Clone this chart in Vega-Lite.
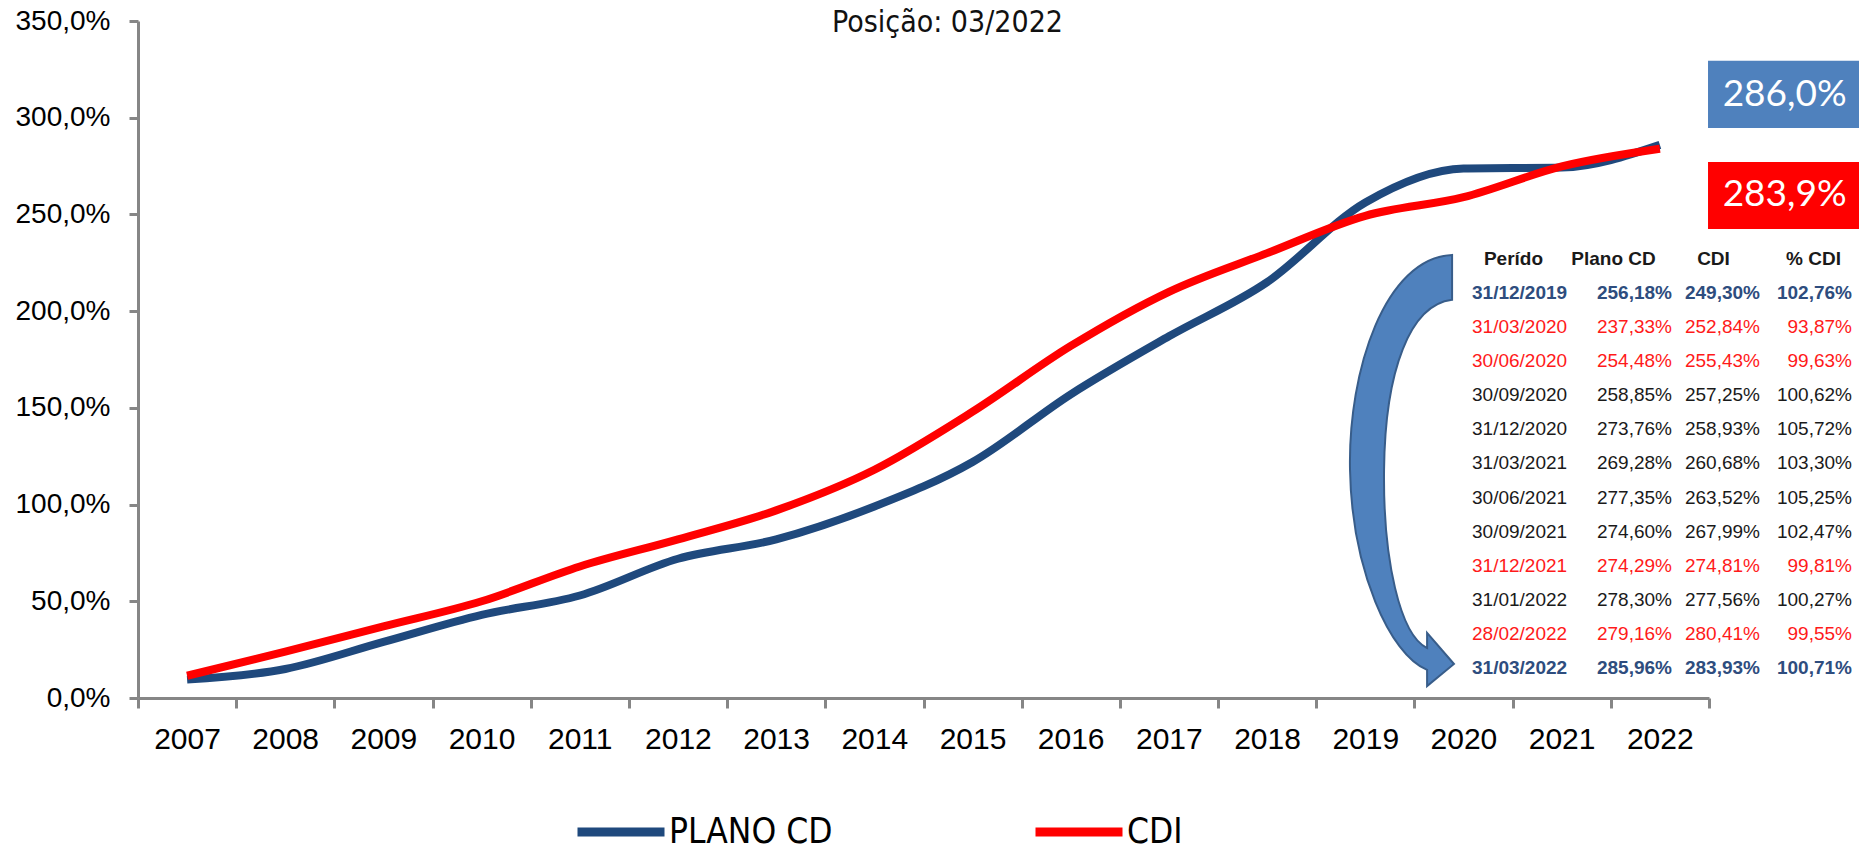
{
  "$schema": "https://vega.github.io/schema/vega-lite/v6.json",
  "width": 1571,
  "height": 677,
  "autosize": {"type": "none"},
  "padding": {"left": 138, "top": 21, "right": 150, "bottom": 155},
  "background": "#ffffff",
  "config": {
    "view": {"stroke": null},
    "locale": {"number": {"decimal": ",", "thousands": ".", "grouping": [3], "currency": ["R$", ""]}}
  },
  "title": {
    "text": "Posição: 03/2022",
    "font": "DejaVu Sans Condensed, sans-serif",
    "fontSize": 30,
    "fontWeight": "normal",
    "color": "#111111",
    "anchor": "middle",
    "frame": "group",
    "dx": 24,
    "offset": -31
  },
  "resolve": {
    "scale": {"x": "independent", "y": "independent", "color": "independent"},
    "axis": {"x": "independent", "y": "independent"}
  },
  "layer": [
    {
      "layer": [
        {
          "data": {
            "values": [
              {"ano": 2007, "serie": "PLANO CD", "rentab": 0.095},
              {"ano": 2008, "serie": "PLANO CD", "rentab": 0.15},
              {"ano": 2009, "serie": "PLANO CD", "rentab": 0.29},
              {"ano": 2010, "serie": "PLANO CD", "rentab": 0.43},
              {"ano": 2011, "serie": "PLANO CD", "rentab": 0.53},
              {"ano": 2012, "serie": "PLANO CD", "rentab": 0.72},
              {"ano": 2013, "serie": "PLANO CD", "rentab": 0.82},
              {"ano": 2014, "serie": "PLANO CD", "rentab": 0.99},
              {"ano": 2015, "serie": "PLANO CD", "rentab": 1.22},
              {"ano": 2016, "serie": "PLANO CD", "rentab": 1.57},
              {"ano": 2017, "serie": "PLANO CD", "rentab": 1.87},
              {"ano": 2018, "serie": "PLANO CD", "rentab": 2.15},
              {"ano": 2019, "serie": "PLANO CD", "rentab": 2.5618},
              {"ano": 2020, "serie": "PLANO CD", "rentab": 2.7376},
              {"ano": 2021, "serie": "PLANO CD", "rentab": 2.7429},
              {"ano": 2022, "serie": "PLANO CD", "rentab": 2.8596},
              {"ano": 2007, "serie": "CDI", "rentab": 0.115},
              {"ano": 2008, "serie": "CDI", "rentab": 0.24},
              {"ano": 2009, "serie": "CDI", "rentab": 0.37},
              {"ano": 2010, "serie": "CDI", "rentab": 0.50},
              {"ano": 2011, "serie": "CDI", "rentab": 0.68},
              {"ano": 2012, "serie": "CDI", "rentab": 0.82},
              {"ano": 2013, "serie": "CDI", "rentab": 0.97},
              {"ano": 2014, "serie": "CDI", "rentab": 1.18},
              {"ano": 2015, "serie": "CDI", "rentab": 1.48},
              {"ano": 2016, "serie": "CDI", "rentab": 1.82},
              {"ano": 2017, "serie": "CDI", "rentab": 2.10},
              {"ano": 2018, "serie": "CDI", "rentab": 2.30},
              {"ano": 2019, "serie": "CDI", "rentab": 2.4930},
              {"ano": 2020, "serie": "CDI", "rentab": 2.5893},
              {"ano": 2021, "serie": "CDI", "rentab": 2.7481},
              {"ano": 2022, "serie": "CDI", "rentab": 2.8393}
            ]
          },
          "mark": {"type": "line", "interpolate": "monotone", "strokeWidth": 8},
          "encoding": {
            "x": {
              "field": "ano",
              "type": "quantitative",
              "scale": {"domain": [2006.5, 2022.5], "nice": false, "zero": false},
              "axis": {
                "values": [2006.5, 2007.5, 2008.5, 2009.5, 2010.5, 2011.5, 2012.5, 2013.5, 2014.5, 2015.5, 2016.5, 2017.5, 2018.5, 2019.5, 2020.5, 2021.5, 2022.5],
                "labelExpr": "datum.value < 2022 ? toString(datum.value + 0.5) : ''",
                "labelOffset": 49,
                "labelFlush": false,
                "labelOverlap": false,
                "labelBaseline": "top",
                "tickSize": 10,
                "tickWidth": 3,
                "tickColor": "#868686",
                "domainColor": "#868686",
                "domainWidth": 3,
                "labelFont": "Liberation Sans, Arial, sans-serif",
                "labelFontSize": 30,
                "labelColor": "#000000",
                "labelPadding": 16,
                "title": null,
                "grid": false
              }
            },
            "y": {
              "field": "rentab",
              "type": "quantitative",
              "scale": {"domain": [0, 3.5], "nice": false, "zero": true},
              "axis": {
                "values": [0, 0.5, 1, 1.5, 2, 2.5, 3, 3.5],
                "format": ".1%",
                "tickSize": 9,
                "tickWidth": 3,
                "tickColor": "#868686",
                "domainColor": "#868686",
                "domainWidth": 3,
                "labelFont": "Liberation Sans, Arial, sans-serif",
                "labelFontSize": 28,
                "labelColor": "#000000",
                "labelPadding": 19,
                "title": null,
                "grid": false
              }
            },
            "color": {
              "field": "serie",
              "type": "nominal",
              "sort": ["PLANO CD", "CDI"],
              "scale": {"domain": ["PLANO CD", "CDI"], "range": ["#1F497D", "#FF0000"]},
              "legend": {
                "orient": "none",
                "legendX": 435,
                "legendY": 763,
                "direction": "horizontal",
                "title": null,
                "symbolType": "stroke",
                "symbolSize": 7569,
                "symbolStrokeWidth": 9,
                "labelFont": "DejaVu Sans Condensed, sans-serif",
                "labelFontSize": 35,
                "labelColor": "#000000",
                "labelOffset": 0,
                "columnPadding": 184,
                "labelLimit": 0
              }
            }
          }
        },
        {
          "data": {"values": [{}]},
          "mark": {
            "type": "point",
            "shape": "M0.248,-1.024 C-0.071,-1.010 -0.248,-0.476 -0.238,0 C-0.229,0.476 -0.048,0.881 0.129,0.952 L0.129,1.029 L0.257,0.924 L0.129,0.776 L0.129,0.848 C0,0.786 -0.081,0.429 -0.076,0 C-0.071,-0.476 0.048,-0.786 0.248,-0.810 Z",
            "size": 176400,
            "filled": true,
            "fill": "#4F81BD",
            "stroke": "#385D8A",
            "strokeWidth": 2,
            "opacity": 1
          },
          "encoding": {
            "x": {"datum": 2019.353, "type": "quantitative"},
            "y": {"datum": 1.179, "type": "quantitative"}
          }
        },
        {
          "data": {"values": [{}]},
          "mark": {"type": "rect", "color": "#4F81BD"},
          "encoding": {
            "x": {"datum": 2022.49, "type": "quantitative"},
            "x2": {"datum": 2024.05},
            "y": {"datum": 3.294, "type": "quantitative"},
            "y2": {"datum": 2.947}
          }
        },
        {
          "data": {"values": [{}]},
          "mark": {"type": "text", "color": "#ffffff", "font": "Lato, sans-serif", "fontSize": 37, "align": "center", "baseline": "middle"},
          "encoding": {
            "x": {"datum": 2023.27, "type": "quantitative"},
            "y": {"datum": 3.12, "type": "quantitative"},
            "text": {"value": "286,0%"}
          }
        },
        {
          "data": {"values": [{}]},
          "mark": {"type": "rect", "color": "#FF0000"},
          "encoding": {
            "x": {"datum": 2022.49, "type": "quantitative"},
            "x2": {"datum": 2024.05},
            "y": {"datum": 2.771, "type": "quantitative"},
            "y2": {"datum": 2.425}
          }
        },
        {
          "data": {"values": [{}]},
          "mark": {"type": "text", "color": "#ffffff", "font": "Lato, sans-serif", "fontSize": 37, "align": "center", "baseline": "middle"},
          "encoding": {
            "x": {"datum": 2023.27, "type": "quantitative"},
            "y": {"datum": 2.598, "type": "quantitative"},
            "text": {"value": "283,9%"}
          }
        }
      ]
    },
    {
      "data": {
        "values": [
          {"periodo": "31/12/2019", "plano": 2.5618, "cdi": 2.4930, "pct": 1.0276, "destaque": true},
          {"periodo": "31/03/2020", "plano": 2.3733, "cdi": 2.5284, "pct": 0.9387},
          {"periodo": "30/06/2020", "plano": 2.5448, "cdi": 2.5543, "pct": 0.9963},
          {"periodo": "30/09/2020", "plano": 2.5885, "cdi": 2.5725, "pct": 1.0062},
          {"periodo": "31/12/2020", "plano": 2.7376, "cdi": 2.5893, "pct": 1.0572},
          {"periodo": "31/03/2021", "plano": 2.6928, "cdi": 2.6068, "pct": 1.0330},
          {"periodo": "30/06/2021", "plano": 2.7735, "cdi": 2.6352, "pct": 1.0525},
          {"periodo": "30/09/2021", "plano": 2.7460, "cdi": 2.6799, "pct": 1.0247},
          {"periodo": "31/12/2021", "plano": 2.7429, "cdi": 2.7481, "pct": 0.9981},
          {"periodo": "31/01/2022", "plano": 2.7830, "cdi": 2.7756, "pct": 1.0027},
          {"periodo": "28/02/2022", "plano": 2.7916, "cdi": 2.8041, "pct": 0.9955},
          {"periodo": "31/03/2022", "plano": 2.8596, "cdi": 2.8393, "pct": 1.0071, "destaque": true}
        ]
      },
      "encoding": {
        "y": {
          "field": "periodo",
          "type": "ordinal",
          "sort": null,
          "axis": null,
          "scale": {
            "type": "point",
            "domain": ["31/12/2019", "31/03/2020", "30/06/2020", "30/09/2020", "31/12/2020", "31/03/2021", "30/06/2021", "30/09/2021", "31/12/2021", "31/01/2022", "28/02/2022", "31/03/2022"],
            "range": [272, 647],
            "padding": 0
          }
        },
        "color": {
          "condition": [
            {"test": "datum.destaque", "value": "#2E4D7E"},
            {"test": "datum.pct < 1", "value": "#FF1A1A"}
          ],
          "value": "#1A1A1A"
        }
      },
      "layer": [
        {
          "transform": [{"filter": "!datum.destaque"}],
          "layer": [
            {
              "mark": {"type": "text", "align": "left", "dx": -41, "font": "Liberation Sans, Arial, sans-serif", "fontSize": 19},
              "encoding": {
                "x": {
                  "datum": "Perído",
                  "type": "nominal",
                  "scale": {"type": "point", "domain": ["Perído", "Plano CD", "CDI", "% CDI"], "range": [1375, 1675], "padding": 0},
                  "axis": {
                    "orient": "top",
                    "offset": -237,
                    "title": null,
                    "domain": false,
                    "ticks": false,
                    "tickSize": 0,
                    "labelPadding": 0,
                    "labelBaseline": "middle",
                    "labelFont": "Liberation Sans, Arial, sans-serif",
                    "labelFontSize": 19,
                    "labelFontWeight": "bold",
                    "labelColor": "#1A1A1A",
                    "labelAngle": 0,
                    "grid": false
                  }
                },
                "text": {"field": "periodo"}
              }
            },
            {
              "mark": {"type": "text", "align": "right", "dx": 59, "font": "Liberation Sans, Arial, sans-serif", "fontSize": 19},
              "encoding": {"x": {"datum": "Plano CD", "type": "nominal"}, "text": {"field": "plano", "type": "quantitative", "format": ".2%"}}
            },
            {
              "mark": {"type": "text", "align": "right", "dx": 47, "font": "Liberation Sans, Arial, sans-serif", "fontSize": 19},
              "encoding": {"x": {"datum": "CDI", "type": "nominal"}, "text": {"field": "cdi", "type": "quantitative", "format": ".2%"}}
            },
            {
              "mark": {"type": "text", "align": "right", "dx": 39, "font": "Liberation Sans, Arial, sans-serif", "fontSize": 19},
              "encoding": {"x": {"datum": "% CDI", "type": "nominal"}, "text": {"field": "pct", "type": "quantitative", "format": ".2%"}}
            }
          ]
        },
        {
          "transform": [{"filter": "datum.destaque"}],
          "layer": [
            {
              "mark": {"type": "text", "align": "left", "dx": -41, "font": "Liberation Sans, Arial, sans-serif", "fontSize": 19, "fontWeight": "bold"},
              "encoding": {"x": {"datum": "Perído", "type": "nominal"}, "text": {"field": "periodo"}}
            },
            {
              "mark": {"type": "text", "align": "right", "dx": 59, "font": "Liberation Sans, Arial, sans-serif", "fontSize": 19, "fontWeight": "bold"},
              "encoding": {"x": {"datum": "Plano CD", "type": "nominal"}, "text": {"field": "plano", "type": "quantitative", "format": ".2%"}}
            },
            {
              "mark": {"type": "text", "align": "right", "dx": 47, "font": "Liberation Sans, Arial, sans-serif", "fontSize": 19, "fontWeight": "bold"},
              "encoding": {"x": {"datum": "CDI", "type": "nominal"}, "text": {"field": "cdi", "type": "quantitative", "format": ".2%"}}
            },
            {
              "mark": {"type": "text", "align": "right", "dx": 39, "font": "Liberation Sans, Arial, sans-serif", "fontSize": 19, "fontWeight": "bold"},
              "encoding": {"x": {"datum": "% CDI", "type": "nominal"}, "text": {"field": "pct", "type": "quantitative", "format": ".2%"}}
            }
          ]
        }
      ]
    }
  ]
}
